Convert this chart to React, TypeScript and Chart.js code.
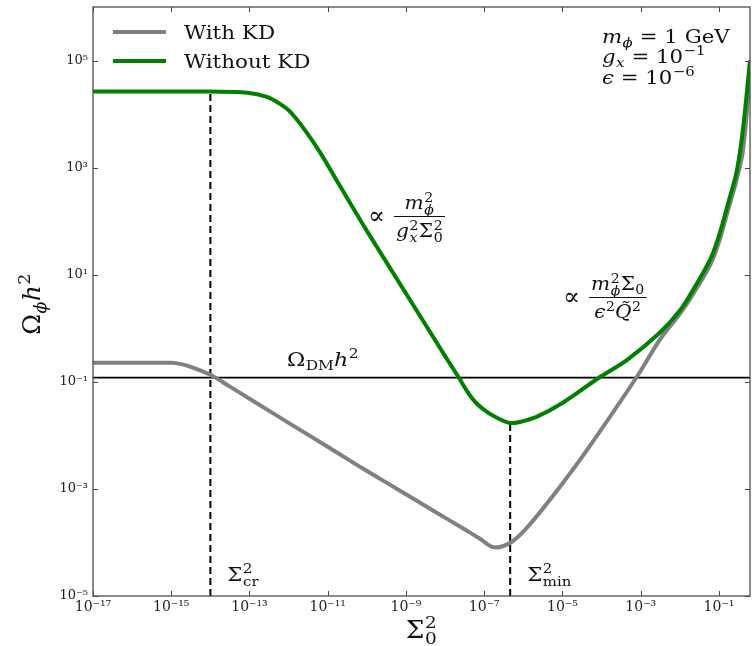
import React, { useEffect, useRef } from 'react';
import { Chart, registerables } from 'chart.js';
Chart.register(...registerables);

// ---- data ----
const WITH_KD_X = [1e-17, 1e-16, 1e-15, 1.78e-15, 3.16e-15, 1e-14, 3.16e-14, 1e-13, 1.07e-12, 1.15e-11, 7.9e-11, 5.9e-10, 4.1e-9, 2.9e-8, 7.8e-8, 1.78e-7, 5.0e-7, 1.48e-6, 1.02e-5, 4.3e-5, 7.9e-4, 3.1e-3, 1.0e-2, 2.19e-2, 7.08e-2, 0.191, 0.288, 0.407, 0.62];
const WITH_KD_Y = [0.2265, 0.2265, 0.2265, 0.214, 0.1905, 0.135, 0.0813, 0.0484, 0.0166, 0.00575, 0.0024, 0.001, 4.27e-4, 1.82e-4, 1.17e-4, 8.1e-5, 1.02e-4, 2.2e-4, 1.29e-3, 5.4e-3, 0.123, 0.617, 1.86, 4.37, 20, 214, 631, 2000, 5.0e4];
const WITHOUT_KD_X = [1e-17, 1e-15, 1e-14, 8.7e-14, 2.8e-13, 6.0e-13, 1.07e-12, 2.5e-12, 6.3e-12, 2.04e-11, 1e-10, 1e-9, 1e-8, 2.14e-8, 4.0e-8, 6.3e-8, 1.17e-7, 2.5e-7, 4.6e-7, 8.1e-7, 2.24e-6, 1.02e-5, 9.1e-5, 4.5e-4, 3.1e-3, 1.0e-2, 2.19e-2, 7.08e-2, 0.191, 0.288, 0.407, 0.62];
const WITHOUT_KD_Y = [2.63e4, 2.63e4, 2.63e4, 2.51e4, 2.09e4, 1.55e4, 1.12e4, 5.25e3, 1.95e3, 457, 66, 4.47, 0.302, 0.126, 0.0603, 0.0398, 0.0275, 0.02, 0.017, 0.0178, 0.0224, 0.0407, 0.123, 0.257, 0.832, 2.14, 5.25, 25.7, 288, 912, 5010, 1.0e5];
const OMEGA_DM = 0.12;
const SIGMA_CR = 1e-14;
const SIGMA_CR_TOP = 2.63e4;
const SIGMA_MIN = 4.6e-7;
const SIGMA_MIN_TOP = 0.017;
const X_TICKS = [1e-17, 1e-15, 1e-13, 1e-11, 1e-9, 1e-7, 1e-5, 1e-3, 1e-1];
const Y_TICKS = [1e-5, 1e-3, 1e-1, 1e1, 1e3, 1e5];
const X_MIN = 1e-17, X_MAX = 0.62, Y_MIN = 1e-5, Y_MAX = 1e6;
const LABELS = ['With KD', 'Without KD'];

const SERIF = "'DejaVu Serif', serif";
const SX = 1.12; // horizontal stretch of the reference's lettering
const SUP: Record<string, string> = { '-': '⁻', '0': '⁰', '1': '¹', '2': '²', '3': '³', '4': '⁴', '5': '⁵', '6': '⁶', '7': '⁷', '8': '⁸', '9': '⁹' };
function sciLabel(v: number) {
  const e = Math.round(Math.log10(v));
  return '10' + String(e).split('').map((c) => SUP[c] || c).join('');
}

type Seg = { t?: string; it?: boolean; pos?: 'sup' | 'sub'; sup?: string; sub?: string; subIt?: boolean };
function fnt(size: number, it?: boolean) {
  return `${it ? 'italic ' : ''}${size}px ${SERIF}`;
}
function segWidth(ctx: CanvasRenderingContext2D, s: Seg, size: number) {
  if (s.sup !== undefined || s.sub !== undefined) {
    ctx.font = fnt(size * 0.7, false);
    const a = ctx.measureText(s.sup || '').width;
    ctx.font = fnt(size * 0.7, s.subIt);
    const b = ctx.measureText(s.sub || '').width;
    return Math.max(a, b) + size * 0.05;
  }
  ctx.font = fnt(s.pos ? size * 0.7 : size, s.it);
  return ctx.measureText(s.t || '').width + (s.pos ? size * 0.03 : 0);
}
function richWidth(ctx: CanvasRenderingContext2D, segs: Seg[], size: number) {
  return segs.reduce((w, s) => w + segWidth(ctx, s, size), 0);
}
function drawRich(ctx: CanvasRenderingContext2D, segs: Seg[], x: number, y: number, size: number, align: 'left' | 'center' = 'left', sx = SX) {
  ctx.textAlign = 'left';
  ctx.textBaseline = 'alphabetic';
  const w = richWidth(ctx, segs, size);
  const x0 = align === 'center' ? x - (w * sx) / 2 : x;
  ctx.save();
  ctx.translate(x0, y);
  ctx.scale(sx, 1);
  let cx = 0;
  for (const s of segs) {
    const sw = segWidth(ctx, s, size);
    if (s.sup !== undefined || s.sub !== undefined) {
      ctx.font = fnt(size * 0.7, false);
      if (s.sup) ctx.fillText(s.sup, cx + size * 0.03, -size * 0.4);
      ctx.font = fnt(size * 0.7, s.subIt);
      if (s.sub) ctx.fillText(s.sub, cx + size * 0.03, size * 0.25);
    } else {
      ctx.font = fnt(s.pos ? size * 0.7 : size, s.it);
      const dy = s.pos === 'sup' ? -size * 0.4 : s.pos === 'sub' ? size * 0.22 : 0;
      ctx.fillText(s.t || '', cx + (s.pos ? size * 0.02 : 0), dy);
    }
    cx += sw;
  }
  ctx.restore();
  return w * sx;
}

const decorPlugin = {
  id: 'decor',
  afterDatasetsDraw(chart: any) {
    const { ctx, chartArea: a, scales } = chart;
    const xs = scales.x, ys = scales.y;
    ctx.save();
    // inward ticks on all four sides
    ctx.strokeStyle = '#444';
    ctx.lineWidth = 1;
    ctx.beginPath();
    for (const v of X_TICKS) {
      const p = Math.round(xs.getPixelForValue(v)) + 0.5;
      ctx.moveTo(p, a.bottom); ctx.lineTo(p, a.bottom - 5);
      ctx.moveTo(p, a.top); ctx.lineTo(p, a.top + 5);
    }
    for (const v of Y_TICKS) {
      const p = Math.round(ys.getPixelForValue(v)) + 0.5;
      ctx.moveTo(a.left, p); ctx.lineTo(a.left + 5, p);
      ctx.moveTo(a.right, p); ctx.lineTo(a.right - 5, p);
    }
    ctx.stroke();
    // frame
    ctx.strokeStyle = '#4d4d4d';
    ctx.lineWidth = 1.3;
    ctx.strokeRect(a.left, a.top, a.right - a.left, a.bottom - a.top);

    // legend
    const ds = chart.data.datasets;
    [0, 1].forEach((di, r) => {
      const yy = 32 + r * 29;
      ctx.strokeStyle = ds[di].borderColor;
      ctx.lineWidth = 4;
      ctx.beginPath();
      ctx.moveTo(113, yy); ctx.lineTo(166, yy);
      ctx.stroke();
      ctx.fillStyle = '#111';
      drawRich(ctx, [{ t: ds[di].label }], 184, yy + 7, 19, 'left', 1.13);
    });

    ctx.fillStyle = '#111';
    // parameters
    drawRich(ctx, [{ t: 'm', it: true }, { t: 'ϕ', it: true, pos: 'sub' }, { t: ' = 1 GeV' }], 602, 43, 19);
    drawRich(ctx, [{ t: 'g', it: true }, { t: 'x', it: true, pos: 'sub' }, { t: ' = 10' }, { t: '−1', pos: 'sup' }], 602, 63, 19);
    drawRich(ctx, [{ t: 'ϵ', it: true }, { t: ' = 10' }, { t: '−6', pos: 'sup' }], 602, 84, 19);

    // Omega_DM label
    const yDM = ys.getPixelForValue(OMEGA_DM);
    drawRich(ctx, [{ t: 'Ω' }, { t: 'DM', pos: 'sub' }, { t: 'h', it: true }, { t: '2', pos: 'sup' }], 287, yDM - 12, 19, 'left', 1.16);

    // Sigma labels
    drawRich(ctx, [{ t: 'Σ' }, { sup: '2', sub: 'cr' }], xs.getPixelForValue(SIGMA_CR) + 17, 581, 19);
    drawRich(ctx, [{ t: 'Σ' }, { sup: '2', sub: 'min' }], xs.getPixelForValue(SIGMA_MIN) + 17, 581, 19);

    // fractions
    const drawFrac = (px: number, barY: number, num: Seg[], den: Seg[], size: number) => {
      const pw = drawRich(ctx, [{ t: '∝' }], px, barY + 8, 25, 'left', 1.0);
      const wN = richWidth(ctx, num, size) * SX;
      const wD = richWidth(ctx, den, size) * SX;
      const w = Math.max(wN, wD) + 4;
      const cx = px + pw + 9 + w / 2;
      ctx.strokeStyle = '#111';
      ctx.lineWidth = 1;
      ctx.beginPath();
      ctx.moveTo(cx - w / 2, barY + 0.5); ctx.lineTo(cx + w / 2, barY + 0.5);
      ctx.stroke();
      drawRich(ctx, num, cx, barY - 7, size, 'center');
      drawRich(ctx, den, cx, barY + 21, size, 'center');
    };
    drawFrac(368, 216,
      [{ t: 'm', it: true }, { sup: '2', sub: 'ϕ', subIt: true }],
      [{ t: 'g', it: true }, { sup: '2', sub: 'x', subIt: true }, { t: 'Σ' }, { sup: '2', sub: '0' }], 18);
    drawFrac(563, 297,
      [{ t: 'm', it: true }, { sup: '2', sub: 'ϕ', subIt: true }, { t: 'Σ' }, { t: '0', pos: 'sub' }],
      [{ t: 'ϵ', it: true }, { t: '2', pos: 'sup' }, { t: 'Q̃', it: true }, { t: '2', pos: 'sup' }], 18);

    // axis titles
    drawRich(ctx, [{ t: 'Σ' }, { sup: '2', sub: '0' }], (a.left + a.right) / 2, 638, 24, 'center', 1.1);
    ctx.save();
    ctx.translate(40, 304);
    ctx.rotate(-Math.PI / 2);
    drawRich(ctx, [{ t: 'Ω' }, { t: 'ϕ', it: true, pos: 'sub' }, { t: 'h', it: true }, { t: '2', pos: 'sup' }], 0, 0, 25, 'center', 1.0);
    ctx.restore();

    ctx.restore();
  },
};

export default function App() {
  const ref = useRef<HTMLCanvasElement | null>(null);
  useEffect(() => {
    if (!ref.current) return;
    const withKD = WITH_KD_X.map((x, i) => ({ x, y: WITH_KD_Y[i] }));
    const withoutKD = WITHOUT_KD_X.map((x, i) => ({ x, y: WITHOUT_KD_Y[i] }));
    const chart = new Chart(ref.current, {
      type: 'line',
      data: {
        datasets: [
          { label: LABELS[0], data: withKD, borderColor: '#808080', borderWidth: 4, pointRadius: 0, tension: 0.35, order: 1 },
          { label: LABELS[1], data: withoutKD, borderColor: '#008000', borderWidth: 4, pointRadius: 0, tension: 0.35, order: 0 },
          { label: 'Ω_DM h²', data: [{ x: X_MIN, y: OMEGA_DM }, { x: X_MAX, y: OMEGA_DM }], borderColor: '#000', borderWidth: 1.8, pointRadius: 0, tension: 0, order: 2 },
          { label: 'Σ_cr', data: [{ x: SIGMA_CR, y: Y_MIN }, { x: SIGMA_CR, y: SIGMA_CR_TOP }], borderColor: '#000', borderWidth: 2, borderDash: [7, 4], pointRadius: 0, tension: 0, order: 3 },
          { label: 'Σ_min', data: [{ x: SIGMA_MIN, y: Y_MIN }, { x: SIGMA_MIN, y: SIGMA_MIN_TOP }], borderColor: '#000', borderWidth: 2, borderDash: [7, 4], pointRadius: 0, tension: 0, order: 3 },
        ],
      } as any,
      options: {
        animation: false,
        responsive: false,
        events: [],
        layout: { padding: { top: 7, right: 2, left: 0, bottom: 0 } },
        plugins: { legend: { display: false }, tooltip: { enabled: false }, title: { display: false } },
        scales: {
          x: {
            type: 'logarithmic',
            min: X_MIN,
            max: X_MAX,
            grid: { display: false, drawTicks: false },
            border: { display: false },
            afterBuildTicks: (s: any) => { s.ticks = X_TICKS.map((v) => ({ value: v })); },
            afterFit: (s: any) => { s.height = 50; s.paddingLeft = 0; s.paddingRight = 0; },
            ticks: { autoSkip: false, maxRotation: 0, padding: 3, color: '#222', font: { family: SERIF, size: 14 }, callback: (v: any) => sciLabel(Number(v)) },
          },
          y: {
            type: 'logarithmic',
            min: Y_MIN,
            max: Y_MAX,
            grid: { display: false, drawTicks: false },
            border: { display: false },
            afterBuildTicks: (s: any) => { s.ticks = Y_TICKS.map((v) => ({ value: v })); },
            afterFit: (s: any) => { s.width = 93; s.paddingTop = 0; s.paddingBottom = 0; },
            ticks: { autoSkip: false, padding: 5, color: '#222', font: { family: SERIF, size: 13 }, callback: (v: any) => sciLabel(Number(v)) },
          },
        },
      } as any,
      plugins: [decorPlugin],
    });
    return () => chart.destroy();
  }, []);
  return (
    <div style={{ position: 'absolute', left: 0, top: 0, width: 752, height: 646, background: '#fff' }}>
      <canvas ref={ref} width={752} height={646} style={{ display: 'block' }} />
    </div>
  );
}
